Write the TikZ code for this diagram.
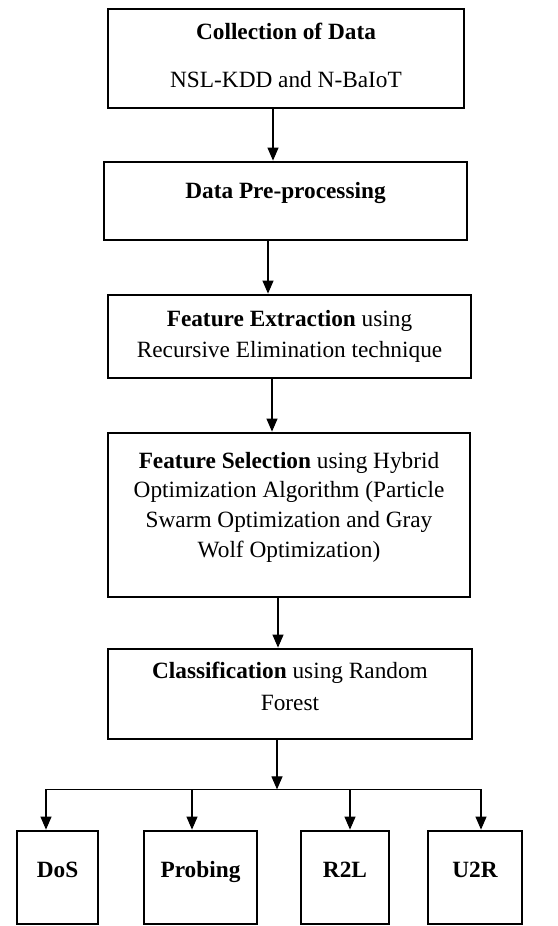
\documentclass[tikz,border=0pt]{standalone}
\usepackage{fontspec}
\setmainfont{Liberation Serif}
\usetikzlibrary{arrows.meta,positioning}

\begin{document}
\begin{tikzpicture}[x=1pt, y=-1pt,
  stage/.style={draw=black, line width=2.8pt, inner sep=0pt, align=center, font=\fontsize{23.3}{29.7}\selectfont},
  attack/.style={draw=black, line width=2.8pt, inner sep=0pt, minimum height=93pt, text height=15.5pt, text depth=16pt, font=\fontsize{23.3}{29.7}\selectfont\bfseries},
  flow/.style={-{Triangle[length=13pt, width=11pt]}, line width=1.1pt}]
  \useasboundingbox (0,0) rectangle (557,926);

  %% Pipeline stages
  \node[stage, minimum width=356pt, minimum height=99pt, text depth=7pt] (collect) at (286,58.5) {\textbf{Collection of Data}\\[18pt]NSL-KDD and N-BaIoT};

  \node[stage, minimum width=363pt, minimum height=78pt, text height=15.5pt, text depth=21pt] (prep) at (285.5,201) {\textbf{Data Pre-processing}};

  \node[stage, minimum width=363pt, minimum height=83pt] (extract) at (289.5,336.5) {\textbf{Feature Extraction} using\\[2pt]Recursive Elimination technique};

  \node[stage, minimum width=362pt, minimum height=164pt, text depth=21pt] (select) at (289,515) {\textbf{Feature Selection} using Hybrid\\Optimization Algorithm (Particle\\Swarm Optimization and Gray\\Wolf Optimization)};

  \node[stage, minimum width=364pt, minimum height=90pt, text depth=16pt] (classify) at (290,694) {\textbf{Classification} using Random\\[2pt]Forest};

  %% Attack classes
  \node[attack, minimum width=81pt] (dos) at (57.5,877.5) {DoS};
  \node[attack, minimum width=113pt] (probing) at (200.5,877.5) {Probing};
  \node[attack, minimum width=88pt] (rtol) at (345,877.5) {R2L};
  \node[attack, minimum width=94pt] (utor) at (475,877.5) {U2R};

  %% Arrows
  \draw[flow] ([xshift=-13pt]collect.south) -- ([xshift=-12.5pt]prep.north);
  \draw[flow] ([xshift=-17.5pt]prep.south) -- ([xshift=-21.5pt]extract.north);
  \draw[flow] ([xshift=-17.5pt]extract.south) -- ([xshift=-17pt]select.north);
  \draw[flow] ([xshift=-11pt]select.south) -- ([xshift=-12pt]classify.north);

  \coordinate (hub) at ([xshift=-13pt, yshift=-49pt]classify.south);
  \draw[flow] ([xshift=-13pt]classify.south) -- (hub);
  \foreach \n/\dx in {dos/-11.5, probing/-8.5, rtol/5, utor/6}
    \draw[flow] (hub) -| ([xshift=\dx pt]\n.north);
\end{tikzpicture}
\end{document}
